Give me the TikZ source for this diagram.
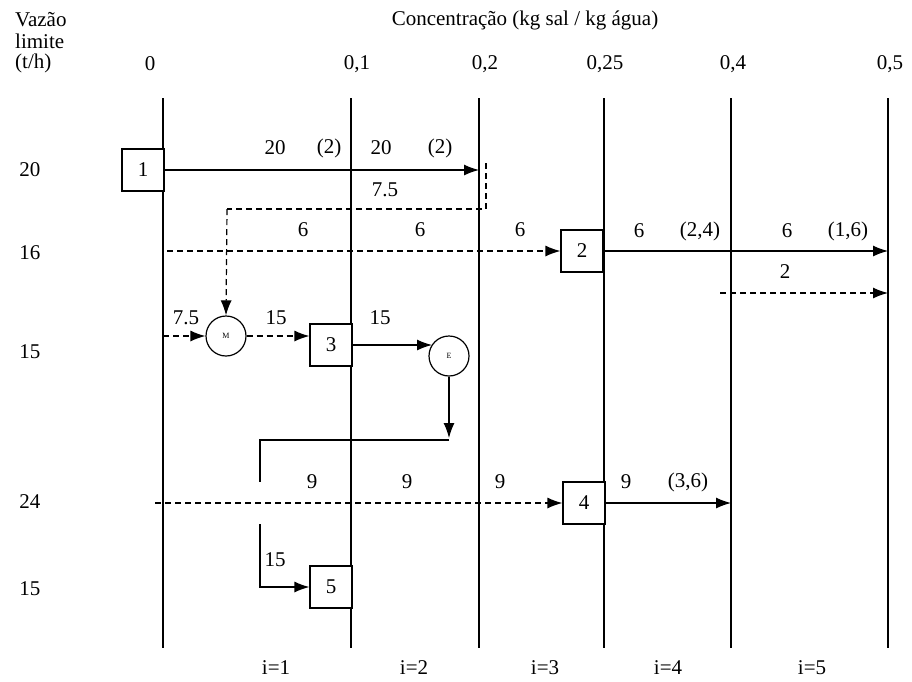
\documentclass[tikz,border=0pt]{standalone}
\usepackage{fontspec}
\setmainfont{Liberation Serif}
\usetikzlibrary{arrows.meta}
\begin{document}
\begin{tikzpicture}[x=1pt,y=-1pt,
  every node/.style={font=\fontsize{21}{22}\selectfont, inner sep=0pt},
  ln/.style={line width=1.2pt},
  arr/.style={ln,-{Latex[length=15pt,width=11pt]}},
  dsh/.style={ln,dash pattern=on 6pt off 4pt},
  darr/.style={dsh,-{Latex[length=15pt,width=11pt]}},
  boxn/.style={draw,line width=1.2pt,minimum width=42pt,minimum height=42pt},
  mix/.style={draw,circle,line width=1.2pt,minimum size=40pt,font=\fontsize{8}{9}\selectfont}]
\useasboundingbox (0,0) rectangle (912,681);
% headings
\node (title) at (525,20) {Concentração (kg sal / kg água)};
\node[anchor=west] (h1) at (15,20) {Vazão};
\node[anchor=west] (h2) at (15,41) {limite};
\node[anchor=west] (h3) at (15,63) {(t/h)};
\node (c0) at (150,64) {0};
\node (c1) at (357,64) {0,1};
\node (c2) at (485,64) {0,2};
\node (c3) at (605,64) {0,25};
\node (c4) at (733,64) {0,4};
\node (c5) at (890,64) {0,5};
% vertical lines
\foreach \n/\x in {a/163,b/351,c/479,d/604,e/731,f/888}{
  \coordinate (t\n) at (\x,98); \coordinate (u\n) at (\x,648);
  \draw[ln] (t\n) -- (u\n);}
% row labels
\node (r1) at (30,170) {20};
\node (r2) at (30,253) {16};
\node (r3) at (30,352) {15};
\node (r4) at (30,502) {24};
\node (r5) at (30,589) {15};
% bottom labels
\node (i1) at (276,668) {i=1};
\node (i2) at (414,668) {i=2};
\node (i3) at (545,668) {i=3};
\node (i4) at (668,668) {i=4};
\node (i5) at (812,668) {i=5};
% nodes
\node[boxn,fill=white] (b1) at (143,170) {1};
\node[boxn,fill=white] (b2) at (582,251) {2};
\node[boxn,fill=white] (b3) at (331,345) {3};
\node[boxn,fill=white] (b4) at (584,503) {4};
\node[boxn,fill=white] (b5) at (331,587) {5};
\node[mix] (M) at (226,336) {M};
\node[mix] (E) at (449,356) {E};
% coordinates
\coordinate (p1) at (479,170);
\coordinate (q1) at (486,163);
\coordinate (q2) at (486,209);
\coordinate (q3) at (227,209);
\coordinate (s2) at (167,251);
\coordinate (p2) at (888,251);
\coordinate (d2a) at (720,293);
\coordinate (d2b) at (888,293);
\coordinate (s3) at (163,336);
\coordinate (ein) at (432,345);
\coordinate (e1) at (449,438);
\coordinate (e2) at (449,440);
\coordinate (e3) at (260,482);
\coordinate (e4) at (260,524);
\coordinate (s4) at (155,503);
\coordinate (p4) at (731,503);
% connectors
\draw[arr] (b1.east) -- (p1);
\draw[dsh] (q1) -- (q2) -- (q3);
\draw[darr] (q3) -- (M.north);
\draw[darr] (s2) -- (b2.west);
\draw[arr] (b2.east) -- (p2);
\draw[darr] (d2a) -- (d2b);
\draw[darr] (s3) -- (M.west);
\draw[darr] (M.east) -- (M.east -| b3.west);
\draw[arr] (b3.east) -- (ein);
\draw[arr] (E.south) -- (e1);
\draw[ln] (e2) -| (e3);
\draw[arr] (e4) |- (b5.west);
\draw[darr] (s4) -- (b4.west);
\draw[arr] (b4.east) -- (p4);
% flow labels
\node at (275,148) {20};
\node at (329,148) {(2)};
\node at (381,148) {20};
\node at (440,148) {(2)};
\node at (385,190) {7.5};
\node at (303,230) {6};
\node at (420,230) {6};
\node at (520,230) {6};
\node at (639,231) {6};
\node at (700,231) {(2,4)};
\node at (787,231) {6};
\node at (848,231) {(1,6)};
\node at (785,272) {2};
\node at (186,318) {7.5};
\node at (276,318) {15};
\node at (380,318) {15};
\node at (312,482) {9};
\node at (407,482) {9};
\node at (500,482) {9};
\node at (626,482) {9};
\node at (688,482) {(3,6)};
\node at (275,560) {15};
\end{tikzpicture}
\end{document}
